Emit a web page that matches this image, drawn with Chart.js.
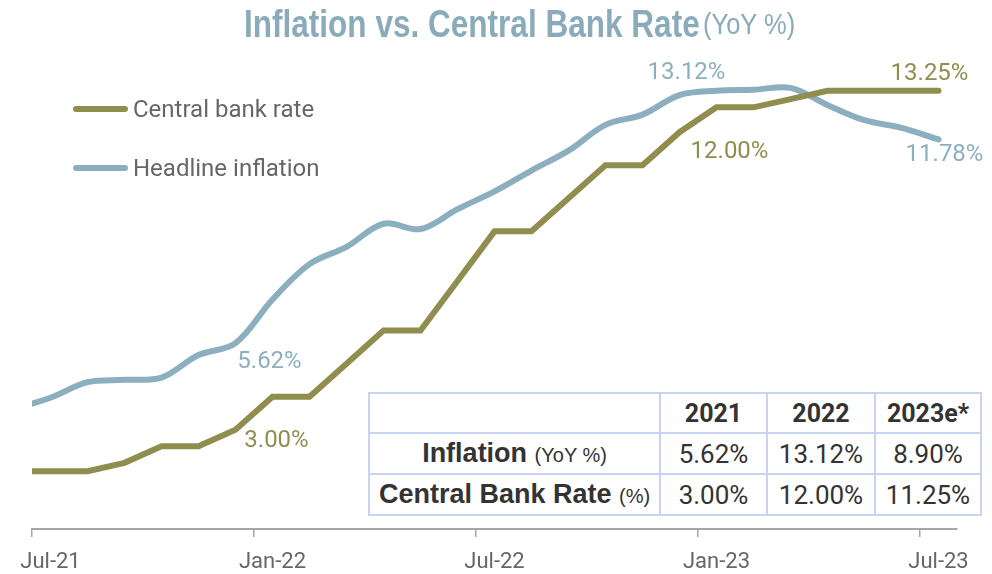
<!DOCTYPE html>
<html>
<head>
<meta charset="utf-8">
<script src="https://cdn.jsdelivr.net/npm/chart.js@4.4.0/dist/chart.umd.min.js"></script>
<style>
  html, body { margin: 0; padding: 0; background: #fff; }
  #wrap { position: relative; width: 992px; height: 574px; overflow: hidden; }
  #chart { position: absolute; left: 0; top: 0; }
  .ttl { position: absolute; top: 2px; white-space: nowrap; color: #8aabba; line-height: 44px;
         font-family: "Liberation Sans", sans-serif; transform-origin: left center; }
  #ttlMain { left: 244px; font-weight: bold; font-size: 38px; transform: scaleX(0.83); }
  #ttlSub { left: 703px; font-size: 29px; transform: scaleX(0.88); }
  .leg { position: absolute; left: 73px; height: 24px; font-family: Roboto, sans-serif; font-size: 24px; color: #666; }
  .leg i { position: absolute; left: 0; top: 9px; width: 55px; height: 6px; border-radius: 3px; }
  .leg b { position: absolute; left: 60px; top: 0; font-weight: normal; white-space: nowrap; line-height: 24px; }
  #tbl {
    position: absolute; left: 368px; top: 392px; border-collapse: collapse; background: #fff;
    font-family: Roboto, sans-serif; color: #333;
  }
  #tbl td { border: 2px solid #c8d3f4; text-align: center; padding: 0; height: 39px; font-size: 26px; }
  #tbl tr:first-child td { font-weight: bold; font-size: 25px; height: 38px; }
  #tbl td.lab { font-family: "Liberation Sans", sans-serif; font-weight: bold; font-size: 27px; }
  #tbl td.lab span { font-weight: normal; font-size: 20px; }
</style>
</head>
<body>
<div id="wrap">
  <canvas id="chart" width="992" height="574"></canvas>
  <div class="ttl" id="ttlMain">Inflation vs. Central Bank Rate</div>
  <div class="ttl" id="ttlSub">(YoY %)</div>
  <div class="leg" style="top:97px"><i style="background:#8f8e4e"></i><b>Central bank rate</b></div>
  <div class="leg" style="top:156px"><i style="background:#8cafbf"></i><b>Headline inflation</b></div>
  <table id="tbl"></table>
</div>
<script>
// monthly series, Jun-21 .. Jul-23 (Jun-21 only feeds the clipped left edge)
var months = ["Jun-21","Jul-21","Aug-21","Sep-21","Oct-21","Nov-21","Dec-21",
              "Jan-22","Feb-22","Mar-22","Apr-22","May-22","Jun-22","Jul-22","Aug-22","Sep-22","Oct-22","Nov-22","Dec-22",
              "Jan-23","Feb-23","Mar-23","Apr-23","May-23","Jun-23","Jul-23"];
var centralBankRate = [1.75,1.75,1.75,2.00,2.50,2.50,3.00,
                       4.00,4.00,5.00,6.00,6.00,7.50,9.00,9.00,10.00,11.00,11.00,12.00,
                       12.75,12.75,13.00,13.25,13.25,13.25,13.25];
var headlineInflation = [3.63,3.97,4.44,4.51,4.58,5.26,5.62,
                         6.94,8.01,8.53,9.23,9.07,9.67,10.21,10.84,11.44,12.22,12.53,13.12,
                         13.25,13.28,13.34,12.82,12.36,12.13,11.78];
var tickLabels = ["Jul-21","Jan-22","Jul-22","Jan-23","Jul-23"];

// table
var tableYears = ["2021","2022","2023e*"];
var tableInflation = [5.62, 13.12, 8.90];
var tableRate = [3.00, 12.00, 11.25];

var OLIVE = "#8f8e4e", BLUE = "#8cafbf";

function toPoints(arr){
    return arr.map(function(v, i){ return { x: i - 1, y: v }; });
}

/* --------------------------
   TABLE
--------------------------- */
function pct(v){ return v.toFixed(2) + "%"; }
var colW = [289, 105, 106, 104];
var html = "<tr><td style='width:" + colW[0] + "px'></td>";
tableYears.forEach(function(y, i){ html += "<td style='width:" + colW[i+1] + "px'>" + y + "</td>"; });
html += "</tr><tr><td class='lab'>Inflation <span>(YoY %)</span></td>";
tableInflation.forEach(function(v){ html += "<td>" + pct(v) + "</td>"; });
html += "</tr><tr><td class='lab'>Central Bank Rate <span>(%)</span></td>";
tableRate.forEach(function(v){ html += "<td>" + pct(v) + "</td>"; });
html += "</tr>";
document.getElementById("tbl").innerHTML = html;

/* --------------------------
   POINT CALLOUTS
--------------------------- */
var callouts = [
    { ds: 1, month: "Dec-22", dx: 7,  dy: -22 },
    { ds: 0, month: "Jul-23", dx: -9, dy: -17 },
    { ds: 0, month: "Dec-22", dx: 50, dy: 20 },
    { ds: 1, month: "Jul-23", dx: 6,  dy: 16 },
    { ds: 1, month: "Dec-21", dx: 34, dy: 19 },
    { ds: 0, month: "Dec-21", dx: 41, dy: 11 }
];

var calloutPlugin = {
    id: "callouts",
    afterDatasetsDraw: function(chart){
        var ctx = chart.ctx;
        var xs = chart.scales.x, ys = chart.scales.y;
        ctx.save();
        ctx.font = "24px Roboto";
        ctx.textAlign = "center";
        ctx.textBaseline = "middle";
        callouts.forEach(function(c){
            var idx = months.indexOf(c.month);
            var ds = chart.data.datasets[c.ds];
            var v = ds.data[idx].y;
            ctx.fillStyle = ds.borderColor;
            ctx.fillText(pct(v), xs.getPixelForValue(idx - 1) + c.dx, ys.getPixelForValue(v) + c.dy);
        });
        ctx.restore();
    }
};

new Chart(document.getElementById("chart"), {
    type: "line",
    data: {
        datasets: [{
            label: "Central bank rate",
            data: toPoints(centralBankRate),
            borderColor: OLIVE,
            borderWidth: 6,
            tension: 0,
            borderCapStyle: "round",
            borderJoinStyle: "miter",
            pointRadius: 0,
            clip: 0
        }, {
            label: "Headline inflation",
            data: toPoints(headlineInflation),
            borderColor: BLUE,
            borderWidth: 6,
            tension: 0.35,
            borderCapStyle: "round",
            pointRadius: 0,
            clip: 0
        }]
    },
    options: {
        responsive: false,
        animation: false,
        events: [],
        layout: { padding: { left: 32, right: 35, top: 66, bottom: 2 } },
        plugins: { legend: { display: false }, tooltip: { enabled: false } },
        scales: {
            x: {
                type: "linear",
                min: -0.5,
                max: 24.5,
                afterBuildTicks: function(scale){
                    scale.ticks = tickLabels.map(function(t, i){ return { value: i * 6 - 0.5 }; });
                },
                afterFit: function(scale){
                    scale.height = 43;
                    scale.paddingLeft = 0;
                    scale.paddingRight = 0;
                },
                ticks: {
                    autoSkip: false,
                    maxRotation: 0,
                    padding: 12,
                    labelOffset: 18.5,
                    color: "#666",
                    font: { family: "Roboto", size: 22 },
                    callback: function(value, index){ return tickLabels[index]; }
                },
                grid: { display: true, drawOnChartArea: false, drawTicks: true, tickLength: 8, color: "#a6a6a6", lineWidth: 1.5 },
                border: { display: true, color: "#a6a6a6", width: 2 }
            },
            y: {
                display: false,
                min: 0,
                max: 14
            }
        }
    },
    plugins: [calloutPlugin]
});
</script>
</body>
</html>
